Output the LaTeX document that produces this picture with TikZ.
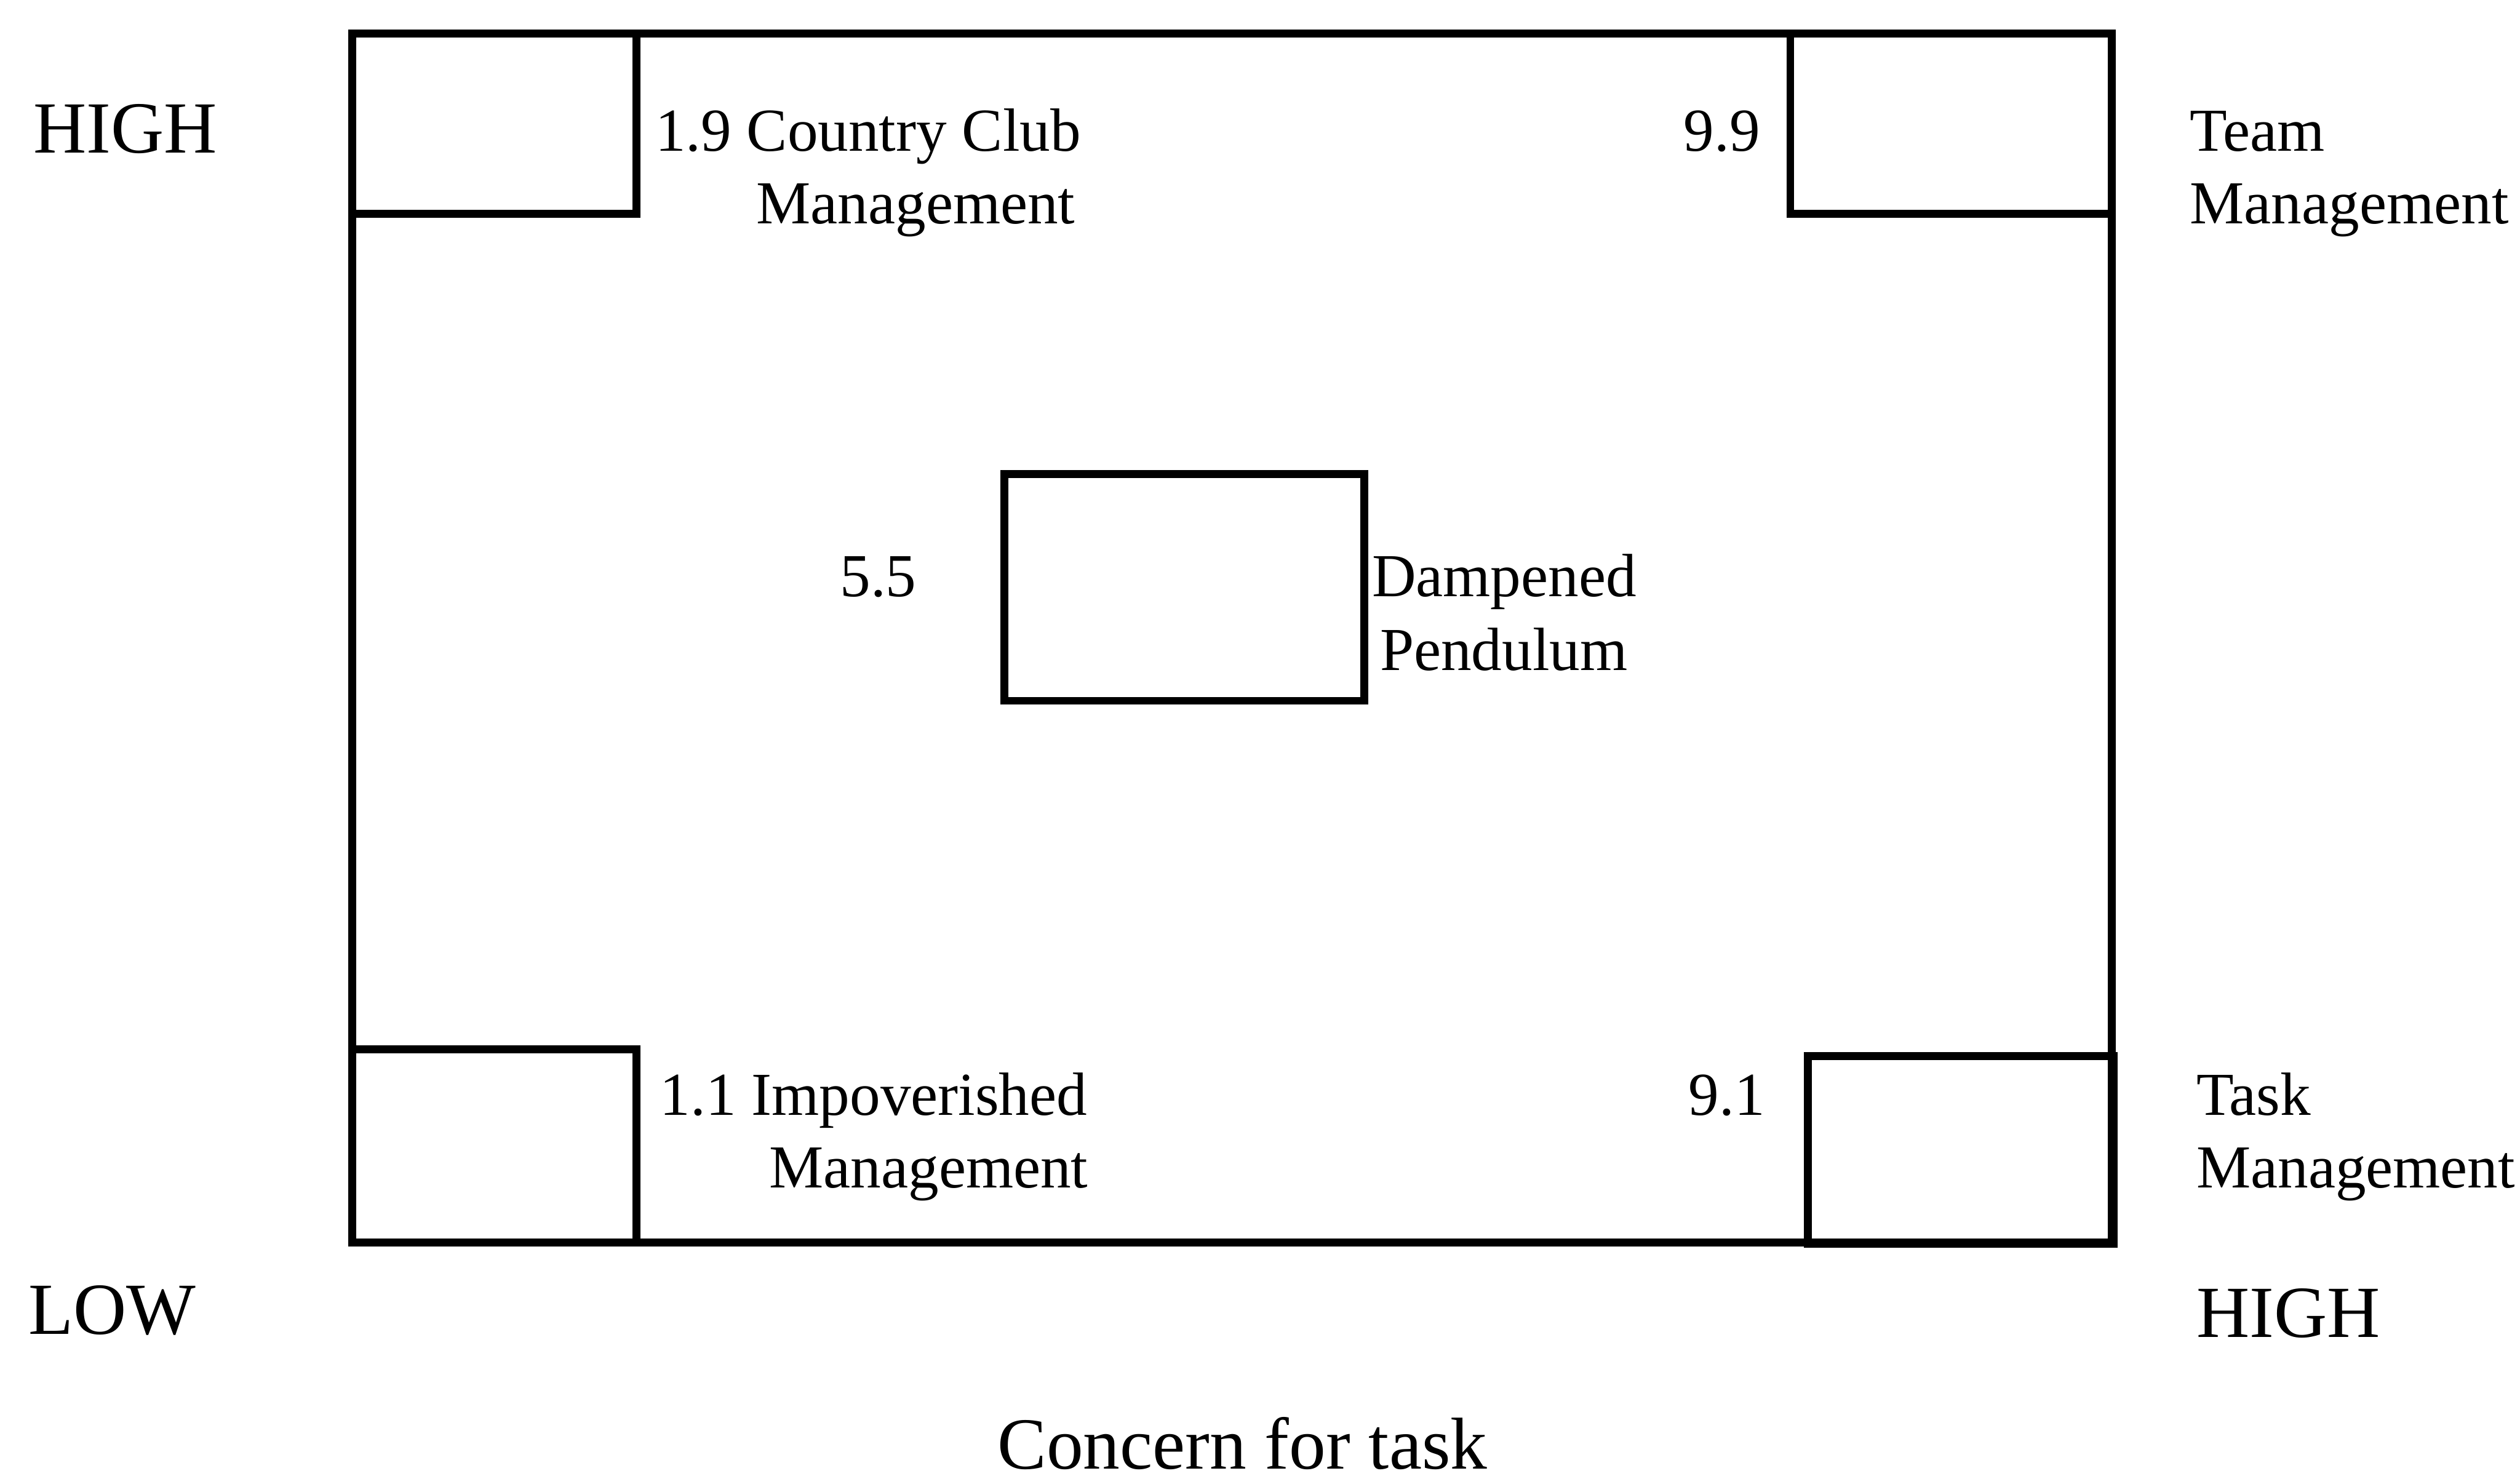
\documentclass[tikz,border=0pt]{standalone}
\usepackage{fontspec}
\setmainfont{Liberation Serif}
\begin{document}
\begin{tikzpicture}[x=0.01cm,y=-0.01cm,
  box/.style={draw,line width=1.4pt},
  lbl/.style={font=\fontsize{10.8}{13}\selectfont,anchor=base west,inner sep=0pt},
  big/.style={font=\fontsize{13}{15}\selectfont,anchor=base west,inner sep=0pt}]
\useasboundingbox (0,0) rectangle (1568,923);
% outer grid
\draw[box] (219,21) rectangle (1314,773);
% corner boxes
\draw[box] (219,21) rectangle (396,133);
\draw[box] (1114,21) rectangle (1314,133);
\draw[box] (219,653) rectangle (396,773);
\draw[box] (1125,657) rectangle (1315,774);
% centre box
\draw[box] (625,295) rectangle (849,436);
% axis labels
\node[big] (hl) at (20,95) {HIGH};
\node[big] (low) at (17,830) {LOW};
\node[big] (hr) at (1366,832) {HIGH};
\node[big] (task) at (620,914) {Concern for task};
% style labels
\node[lbl] (cc1) at (407,94) {1.9 Country Club};
\node[lbl] (cc2) at (470,139) {Management};
\node[lbl] (t99) at (1047,94) {9.9};
\node[lbl] (tm1) at (1362,94) {Team};
\node[lbl] (tm2) at (1362,139) {Management};
\node[lbl] (t55) at (522,371) {5.5};
\node[lbl] (dp1) at (853,371) {Dampened};
\node[lbl] (dp2) at (858,417) {Pendulum};
\node[lbl] (im1) at (410,694) {1.1 Impoverished};
\node[lbl] (im2) at (478,739) {Management};
\node[lbl] (t91) at (1050,694) {9.1};
\node[lbl] (tk1) at (1366,694) {Task};
\node[lbl] (tk2) at (1366,739) {Management};
\end{tikzpicture}
\end{document}
